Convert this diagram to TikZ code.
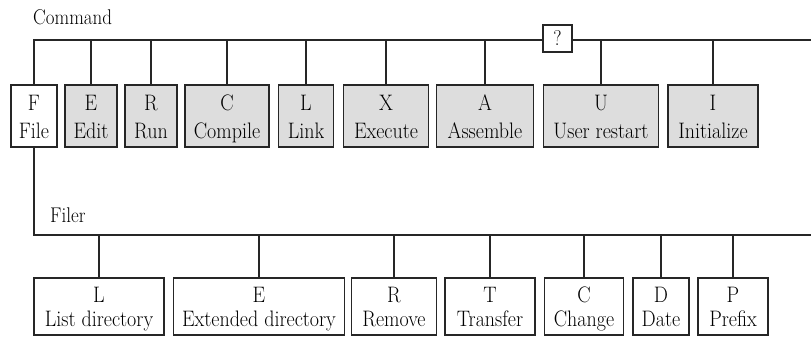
\documentclass[tikz,border=0pt]{standalone}
% two stacked lines of box text, slightly tall letters, fixed line geometry
\newcommand\tallword[1]{\smash{\scalebox{1}[1.12]{#1}}}
\newcommand\twolines[2]{\rule{0pt}{16.5pt}\tallword{#1}\\\tallword{#2}}
\begin{document}
\begin{tikzpicture}[x=1pt,y=-1pt,
  wire/.style={line width=1.8pt, draw=black!85},
  basebox/.style={draw=black!85, line width=1.8pt, inner sep=0pt, align=center},
  cmdbox/.style={basebox, fill=gray!27, minimum height=62pt, font=\fontsize{20}{28}\selectfont},
  filebox/.style={basebox, fill=white, minimum height=57pt, font=\fontsize{20}{24}\selectfont},
  qbox/.style={basebox, fill=white, minimum width=29pt, minimum height=27pt, font=\fontsize{19}{22}\selectfont},
  lbl/.style={inner sep=0pt, font=\fontsize{19}{22}\selectfont}]
\useasboundingbox (0,0) rectangle (811,337);

% labels
\node[lbl, anchor=base west] (cmd) at (33,25) {\scalebox{1}[1.12]{Command}};
\node[lbl, anchor=base west] (filer) at (50,222) {\scalebox{1}[1.12]{Filer}};

% bus coordinates
\coordinate (bus) at (34,40);
\coordinate (busend) at (811,40);
\coordinate (fbus) at (34,235);
\coordinate (fbusend) at (811,235);

% command row
\node[cmdbox, fill=white, minimum width=46pt] (F) at (34,116) {\twolines{F}{File}};
\node[cmdbox, minimum width=52pt] (E) at (91,116) {\twolines{E}{Edit}};
\node[cmdbox, minimum width=52pt] (R) at (151,116) {\twolines{R}{Run}};
\node[cmdbox, minimum width=84pt] (C) at (227,116) {\twolines{C}{Compile}};
\node[cmdbox, minimum width=55pt] (L) at (306,116) {\twolines{L}{Link}};
\node[cmdbox, minimum width=85pt] (X) at (386,116) {\twolines{X}{Execute}};
\node[cmdbox, minimum width=97pt] (A) at (485,116) {\twolines{A}{Assemble}};
\node[cmdbox, minimum width=115pt] (U) at (601,116) {\twolines{U}{User restart}};
\node[cmdbox, minimum width=90pt] (I) at (713,116) {\twolines{I}{Initialize}};

% filer row
\node[filebox, minimum width=130pt] (fL) at (99,306.5) {\twolines{L}{List directory}};
\node[filebox, minimum width=171pt] (fE) at (259,306.5) {\twolines{E}{Extended directory}};
\node[filebox, minimum width=85pt] (fR) at (394,306.5) {\twolines{R}{Remove}};
\node[filebox, minimum width=90pt] (fT) at (490,306.5) {\twolines{T}{Transfer}};
\node[filebox, minimum width=79pt] (fC) at (584,306.5) {\twolines{C}{Change}};
\node[filebox, minimum width=56pt] (fD) at (661,306.5) {\twolines{D}{Date}};
\node[filebox, minimum width=70pt] (fP) at (733,306.5) {\twolines{P}{Prefix}};

% command bus
\draw[wire] (F.north) -- (bus) -- (busend);
\foreach \n in {E,R,C,L,X,A,U,I}
  \draw[wire] (\n.north |- bus) -- (\n.north);
\node[qbox] (q) at (557.5,38.5) {\scalebox{1}[1.12]{?}};

% filer bus
\draw[wire] (F.south) -- (fbus) -- (fbusend);
\foreach \n in {fL,fE,fR,fT,fC,fD,fP}
  \draw[wire] (\n.north |- fbus) -- (\n.north);
\end{tikzpicture}
\end{document}
